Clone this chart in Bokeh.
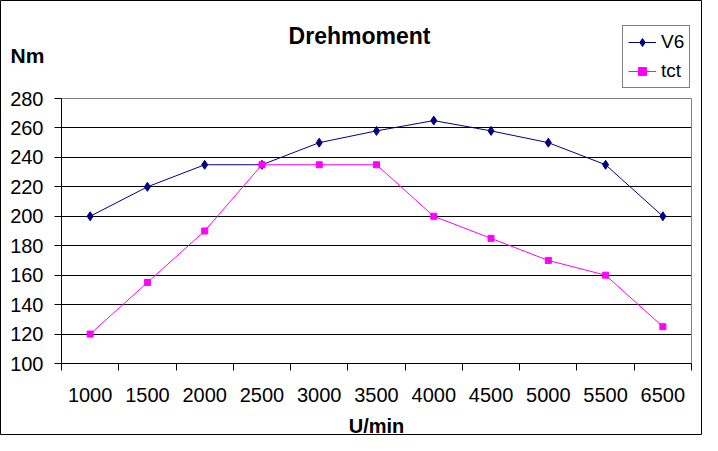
from bokeh.plotting import figure
from bokeh.models import Range1d, FixedTicker, Legend, LegendItem, Label, Grid
from bokeh.embed import file_html
from bokeh.resources import INLINE

categories = ["1000", "1500", "2000", "2500", "3000", "3500", "4000", "4500", "5000", "5500", "6500"]
v6 = [200, 220, 235, 235, 250, 258, 265, 258, 250, 235, 200]
tct = [120, 155, 190, 235, 235, 235, 200, 185, 170, 160, 125]
y_ticks = [100, 120, 140, 160, 180, 200, 220, 240, 260, 280]
title_text = "Drehmoment"
y_label = "Nm"
x_label = "U/min"

FONT = "Liberation Sans"
W, H = 702, 435
# plot-area pixel box inside the canvas
PL, PR, PT, PB = 61, 691, 98, 363
n = len(categories)
xs = [i + 0.5 for i in range(n)]
y0, y1 = y_ticks[0], y_ticks[-1]
kx = (PR - PL) / n
ky = (PB - PT) / (y1 - y0)

p = figure(width=W, height=H,
           x_range=Range1d(-PL / kx, n + (W - PR) / kx),
           y_range=Range1d(y0 - (H - PB) / ky, y1 + PT / ky),
           output_backend="svg", toolbar_location=None,
           min_border_left=0, min_border_right=0, min_border_top=0, min_border_bottom=0)
p.background_fill_color = "white"
p.border_fill_color = "white"
p.outline_line_color = "black"
p.outline_line_width = 1

has_cb = "cross_bounds" in Grid.properties()

# grid
p.xgrid.visible = False
p.ygrid.ticker = FixedTicker(ticks=y_ticks[1:-1])
p.ygrid.grid_line_color = "black"
p.ygrid.grid_line_width = 1
if has_cb:
    p.ygrid.cross_bounds = (0, n)
    top = Grid(dimension=1, ticker=FixedTicker(ticks=[y1]), cross_bounds=(0, n),
               grid_line_color="#808080", grid_line_width=1)
    right = Grid(dimension=0, ticker=FixedTicker(ticks=[n]), cross_bounds=(y0, y1),
                 grid_line_color="#808080", grid_line_width=1)
    p.add_layout(top)
    p.add_layout(right)
else:
    p.ygrid.visible = False
    p.segment(x0=[0] * (len(y_ticks) - 2), x1=[n] * (len(y_ticks) - 2),
              y0=y_ticks[1:-1], y1=y_ticks[1:-1], line_color="black", line_width=1)
    p.segment(x0=[0, n], x1=[n, n], y0=[y1, y0], y1=[y1, y1], line_color="#808080", line_width=1)

# y axis
yax = p.yaxis[0]
yax.fixed_location = 0
yax.bounds = (y0, y1)
yax.ticker = FixedTicker(ticks=y_ticks)
yax.axis_line_color = "black"
yax.major_tick_line_color = "black"
yax.major_tick_out = 7
yax.major_tick_in = 0
yax.minor_tick_line_color = None
yax.major_label_text_font = FONT
yax.major_label_text_font_size = "20px"
yax.major_label_text_color = "black"
yax.major_label_standoff = 11

# x axis: labels at category centres, tick marks at boundaries
xax = p.xaxis[0]
xax.fixed_location = y0
xax.bounds = (0, n)
xax.ticker = FixedTicker(ticks=xs, minor_ticks=list(range(n + 1)))
xax.major_label_overrides = {x: c for x, c in zip(xs, categories)}
xax.axis_line_color = "black"
xax.major_tick_line_color = None
xax.major_tick_out = 0
xax.major_tick_in = 0
xax.minor_tick_line_color = "black"
xax.minor_tick_out = 7
xax.minor_tick_in = 0
xax.major_label_text_font = FONT
xax.major_label_text_font_size = "20px"
xax.major_label_text_color = "black"
xax.major_label_standoff = 17
xax.axis_label = x_label
xax.axis_label_text_font = FONT
xax.axis_label_text_font_size = "20px"
xax.axis_label_text_font_style = "bold"
xax.axis_label_text_color = "black"
xax.axis_label_standoff = 10

# series
l1 = p.line(xs, v6, line_color="#000080", line_width=1)
s1 = p.scatter(xs, v6, marker="diamond", size=9, fill_color="#000080", line_color="#000080")
l2 = p.line(xs, tct, line_color="#FF00FF", line_width=1)
s2 = p.scatter(xs, tct, marker="square", size=6, fill_color="#FF00FF", line_color="#FF00FF")

legend = Legend(items=[LegendItem(label="V6", renderers=[l1, s1]),
                       LegendItem(label="tct", renderers=[l2, s2])],
                location=(622, H - 88))
legend.border_line_color = "black"
legend.border_line_width = 1
legend.background_fill_color = "white"
legend.background_fill_alpha = 1
legend.label_text_font = FONT
legend.label_text_font_size = "19px"
legend.label_text_color = "black"
legend.glyph_width = 28
legend.glyph_height = 20
legend.label_height = 20
legend.padding = 5
legend.spacing = 7
legend.margin = 0
legend.label_standoff = 5
p.add_layout(legend)

title = Label(x=359, y=H - 35, x_units="screen", y_units="screen", text=title_text,
              text_font=FONT, text_font_size="23px", text_font_style="bold",
              text_align="center", text_baseline="alphabetic", text_color="black")
p.add_layout(title)
nm = Label(x=10, y=H - 55, x_units="screen", y_units="screen", text=y_label,
           text_font=FONT, text_font_size="21px", text_font_style="bold",
           text_align="left", text_baseline="alphabetic", text_color="black")
p.add_layout(nm)

open("out.html", "w").write(file_html(p, INLINE))
